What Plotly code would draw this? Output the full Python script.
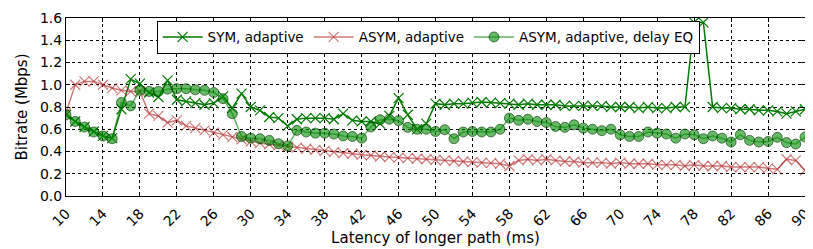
import plotly.graph_objects as go

latency = list(range(10, 91))

sym_adaptive = [
    0.73, 0.67, 0.62, 0.58, 0.54, 0.52, 0.78, 1.05, 1.01, 0.93,
    0.89, 1.04, 0.865, 0.85, 0.835, 0.82, 0.835, 0.895, 0.79, 0.92,
    0.80, 0.77, 0.71, 0.70, 0.63, 0.69, 0.70, 0.70, 0.70, 0.69,
    0.74, 0.68, 0.67, 0.67, 0.65, 0.72, 0.88, 0.73, 0.60, 0.65,
    0.83, 0.82, 0.83, 0.83, 0.84, 0.845, 0.84, 0.835, 0.83, 0.82,
    0.83, 0.82, 0.82, 0.82, 0.81, 0.81, 0.81, 0.81, 0.81, 0.80,
    0.80, 0.80, 0.79, 0.80, 0.79, 0.79, 0.80, 0.80, 1.56, 1.56,
    0.80, 0.79, 0.79, 0.78, 0.78, 0.77, 0.77, 0.76, 0.74, 0.76,
    0.78,
]

asym_adaptive = [
    0.75, 1.00, 1.03, 1.03, 1.00, 0.97, 0.95, 0.94, 0.94, 0.74,
    0.72, 0.66, 0.68, 0.63, 0.61, 0.59, 0.57, 0.55, 0.53, 0.51,
    0.49, 0.475, 0.465, 0.455, 0.445, 0.435, 0.425, 0.415, 0.405, 0.395,
    0.385, 0.38, 0.37, 0.365, 0.355, 0.35, 0.345, 0.34, 0.335, 0.33,
    0.325, 0.32, 0.315, 0.31, 0.305, 0.30, 0.295, 0.29, 0.27, 0.32,
    0.33, 0.32, 0.33, 0.32, 0.31, 0.31, 0.30, 0.30, 0.30, 0.29,
    0.30, 0.29, 0.29, 0.29, 0.28, 0.28, 0.28, 0.27, 0.28, 0.27,
    0.27, 0.27, 0.26, 0.26, 0.26, 0.26, 0.25, 0.24, 0.33, 0.32,
    0.23,
]

asym_delay_eq = [
    0.73, 0.67, 0.62, 0.575, 0.54, 0.515, 0.84, 0.81, 0.95, 0.94,
    0.94, 0.96, 0.965, 0.965, 0.955, 0.95, 0.93, 0.875, 0.74, 0.535,
    0.52, 0.515, 0.50, 0.47, 0.45, 0.59, 0.575, 0.565, 0.565, 0.557,
    0.54, 0.535, 0.52, 0.62, 0.685, 0.69, 0.677, 0.617, 0.60, 0.60,
    0.58, 0.596, 0.515, 0.575, 0.58, 0.575, 0.575, 0.60, 0.70, 0.68,
    0.69, 0.67, 0.66, 0.625, 0.617, 0.64, 0.61, 0.60, 0.587, 0.60,
    0.55, 0.535, 0.535, 0.575, 0.565, 0.557, 0.52, 0.557, 0.55, 0.515,
    0.54, 0.52, 0.485, 0.55, 0.50, 0.485, 0.49, 0.527, 0.48, 0.467,
    0.53,
]

x_ticks = list(range(10, 91, 4))
y_ticks = [0.0, 0.2, 0.4, 0.6, 0.8, 1.0, 1.2, 1.4, 1.6]

FONT = "DejaVu Sans"

fig = go.Figure()

fig.add_trace(go.Scatter(
    x=latency, y=sym_adaptive, name="SYM, adaptive", mode="lines+markers",
    line=dict(color="#007a00", width=1.5),
    marker=dict(symbol="x-thin", size=10, line=dict(color="#007a00", width=1.2)),
))
fig.add_trace(go.Scatter(
    x=latency, y=asym_adaptive, name="ASYM, adaptive", mode="lines+markers",
    line=dict(color="rgba(178,34,34,0.6)", width=1.5),
    marker=dict(symbol="x-thin", size=10, line=dict(color="rgba(178,34,34,0.6)", width=1.2)),
))
fig.add_trace(go.Scatter(
    x=latency, y=asym_delay_eq, name="ASYM, adaptive, delay EQ", mode="lines+markers",
    line=dict(color="rgba(0,128,0,0.6)", width=1.5),
    marker=dict(symbol="circle", size=10, color="rgba(0,140,0,0.6)",
                line=dict(color="rgba(0,50,0,0.6)", width=1)),
))

axis_common = dict(
    showline=True, linecolor="black", linewidth=1, mirror="allticks",
    ticks="inside", ticklen=4, tickcolor="black",
    showgrid=True, gridcolor="black", griddash="dot", gridwidth=1,
    zeroline=False, automargin=False,
    tickfont=dict(family=FONT, size=14, color="black"),
)

fig.update_xaxes(
    range=[10, 90], tickvals=x_ticks, ticktext=[str(v) for v in x_ticks],
    tickangle=-45, ticklabelstandoff=3,
    title=dict(text="Latency of longer path (ms)", font=dict(family=FONT, size=15, color="black"), standoff=2),
    **axis_common,
)
fig.update_yaxes(
    range=[0, 1.6], tickvals=y_ticks, ticktext=[f"{v:.1f}" for v in y_ticks],
    title=dict(text="Bitrate (Mbps)", font=dict(family=FONT, size=15, color="black"), standoff=8),
    **axis_common,
)

fig.update_layout(
    width=813, height=249,
    margin=dict(l=58, r=16, t=10, b=61),
    plot_bgcolor="white", paper_bgcolor="white",
    font=dict(family=FONT, size=14, color="black"),
    legend=dict(
        orientation="h", x=0.49, xanchor="center", y=0.985, yanchor="top",
        bgcolor="white", bordercolor="black", borderwidth=1,
        font=dict(family=FONT, size=13.5, color="black"),
        itemwidth=40, tracegroupgap=0,
    ),
)

fig.write_html("out.html")
